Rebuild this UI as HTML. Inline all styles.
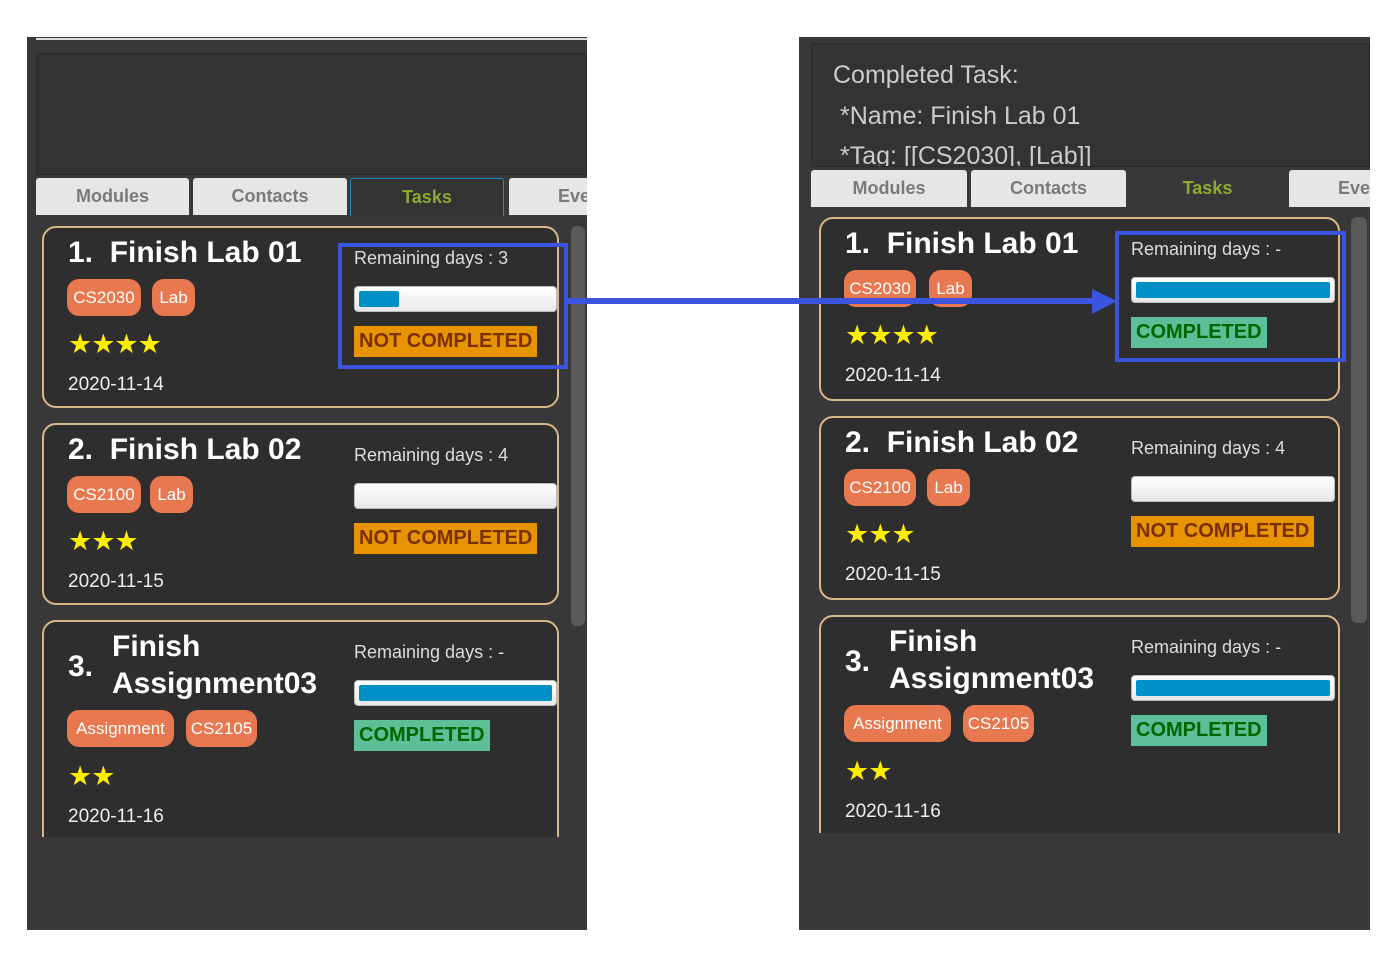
<!DOCTYPE html>
<html><head><meta charset="utf-8"><style>
*{margin:0;padding:0;box-sizing:border-box}
body{width:1393px;height:956px;background:#fff;position:relative;overflow:hidden;font-family:"Liberation Sans",sans-serif}
.a{position:absolute}
.panel{background:#383838;overflow:hidden}
.tab{position:absolute;background:#e6e6e6;color:#7a7a7a;font-weight:bold;font-size:18px;text-align:center;line-height:37px;border-radius:3px 3px 0 0}
.tab.sel{background:#333;color:#8aaa30;border:1px solid #1a8ac0;border-bottom:none}
.clip{position:absolute;overflow:hidden}
.card{position:absolute;width:517px;height:182px;background:#2e2e2e;border:2px solid #d8b888;border-radius:14px;color:#fff}
.t{position:absolute;font-weight:bold;font-size:30px;white-space:nowrap;color:#fff}
.tag{position:absolute;height:37px;background:#e87850;border-radius:12px;color:#fff;font-size:17px;line-height:37px;text-align:center}
.st{position:absolute;color:#ffee00;font-size:27px;letter-spacing:-1px}
.d{position:absolute;font-size:19px;color:#eee}
.rd{position:absolute;left:310px;top:20px;font-size:18px;color:#ddd;white-space:nowrap}
.bar{position:absolute;left:310px;top:58px;width:203px;height:26px;background:linear-gradient(#fff,#e8e8e8);border:1px solid #bbb;border-radius:4px}
.fill{position:absolute;left:4px;top:4px;height:16px;background:#0090c8;border-radius:2px}
.stat{position:absolute;left:310px;top:98px;height:31px;font-weight:bold;font-size:20px;line-height:31px;padding:0 5px;white-space:nowrap}
.nc{background:#e89400;color:#7a3000}
.c{background:#5cbf98;color:#006400}
.hl{position:absolute;border:4px solid #3c55e0}
</style></head><body>

<div class="a panel" style="left:27px;top:37px;width:560px;height:893px">
  <div class="a" style="left:9px;top:1px;width:551px;height:2px;background:#ddd"></div>
  <div class="a" style="left:9px;top:16px;width:551px;height:122px;background:#333;border:1px solid #2a2a2a"></div>
  <div class="tab" style="left:9px;top:141px;width:153px">Modules</div>
  <div class="tab" style="left:166px;top:141px;width:154px">Contacts</div>
  <div class="tab sel" style="left:323px;top:141px;width:154px">Tasks</div>
  <div class="tab" style="left:482px;top:141px;width:120px;text-align:left;padding-left:49px">Eve</div>
  <div class="a" style="left:544px;top:189px;width:14px;height:400px;background:#5a5a5a;border-radius:6px"></div>
</div>
<div class="clip" style="left:27px;top:220px;width:540px;height:617px">
  <div class="card" style="left:15px;top:6px">
    <div class="t" style="left:24px;top:8px">1.&nbsp; Finish Lab 01</div>
    <div class="tag" style="left:23px;top:51px;width:74px">CS2030</div>
    <div class="tag" style="left:108px;top:51px;width:43px">Lab</div>
    <div class="st" style="left:24px;top:101px">★★★★</div>
    <div class="d" style="left:24px;top:146px">2020-11-14</div>
    <div class="rd">Remaining days : 3</div>
    <div class="bar"><div class="fill" style="width:40px"></div></div>
    <div class="stat nc">NOT COMPLETED</div>
  </div>
  <div class="card" style="left:15px;top:203px">
    <div class="t" style="left:24px;top:8px">2.&nbsp; Finish Lab 02</div>
    <div class="tag" style="left:23px;top:51px;width:74px">CS2100</div>
    <div class="tag" style="left:106px;top:51px;width:43px">Lab</div>
    <div class="st" style="left:24px;top:101px">★★★</div>
    <div class="d" style="left:24px;top:146px">2020-11-15</div>
    <div class="rd">Remaining days : 4</div>
    <div class="bar"></div>
    <div class="stat nc">NOT COMPLETED</div>
  </div>
  <div class="card" style="left:15px;top:400px;height:240px">
    <div class="t" style="left:24px;top:28px">3.</div>
    <div class="t" style="left:68px;top:8px">Finish</div>
    <div class="t" style="left:68px;top:45px">Assignment03</div>
    <div class="tag" style="left:23px;top:88px;width:107px">Assignment</div>
    <div class="tag" style="left:142px;top:88px;width:71px">CS2105</div>
    <div class="st" style="left:24px;top:139px">★★</div>
    <div class="d" style="left:24px;top:184px">2020-11-16</div>
    <div class="rd">Remaining days : -</div>
    <div class="bar"><div class="fill" style="width:193px"></div></div>
    <div class="stat c">COMPLETED</div>
  </div>
</div>

<div class="a panel" style="left:799px;top:37px;width:571px;height:893px">
  <div class="a" style="left:12px;top:6px;width:559px;height:124px;background:#333;border:1px solid #2a2a2a;overflow:hidden;color:#ccc;font-size:25px">
    <div class="a" style="left:21px;top:17px;white-space:nowrap">Completed Task:</div>
    <div class="a" style="left:28px;top:58px;white-space:nowrap">*Name: Finish Lab 01</div>
    <div class="a" style="left:28px;top:98px;white-space:nowrap">*Tag: [[CS2030], [Lab]]</div>
  </div>
  <div class="tab" style="left:12px;top:133px;width:156px">Modules</div>
  <div class="tab" style="left:172px;top:133px;width:155px">Contacts</div>
  <div class="tab" style="left:331px;top:133px;width:155px;background:#383838;color:#8aaa30">Tasks</div>
  <div class="tab" style="left:490px;top:133px;width:120px;text-align:left;padding-left:49px">Eve</div>
  <div class="a" style="left:552px;top:180px;width:16px;height:406px;background:#5a5a5a;border-radius:6px"></div>
</div>
<div class="clip" style="left:799px;top:210px;width:550px;height:623px">
  <div class="card" style="left:20px;top:7px;width:521px;height:184px">
    <div class="t" style="left:24px;top:8px">1.&nbsp; Finish Lab 01</div>
    <div class="tag" style="left:23px;top:51px;width:72px">CS2030</div>
    <div class="tag" style="left:108px;top:51px;width:43px">Lab</div>
    <div class="st" style="left:24px;top:101px">★★★★</div>
    <div class="d" style="left:24px;top:146px">2020-11-14</div>
    <div class="rd" style="left:310px">Remaining days : -</div>
    <div class="bar" style="width:204px"><div class="fill" style="width:194px"></div></div>
    <div class="stat c">COMPLETED</div>
  </div>
  <div class="card" style="left:20px;top:206px;width:521px;height:184px">
    <div class="t" style="left:24px;top:8px">2.&nbsp; Finish Lab 02</div>
    <div class="tag" style="left:23px;top:51px;width:72px">CS2100</div>
    <div class="tag" style="left:106px;top:51px;width:43px">Lab</div>
    <div class="st" style="left:24px;top:101px">★★★</div>
    <div class="d" style="left:24px;top:146px">2020-11-15</div>
    <div class="rd">Remaining days : 4</div>
    <div class="bar" style="width:204px"></div>
    <div class="stat nc">NOT COMPLETED</div>
  </div>
  <div class="card" style="left:20px;top:405px;width:521px;height:240px">
    <div class="t" style="left:24px;top:28px">3.</div>
    <div class="t" style="left:68px;top:8px">Finish</div>
    <div class="t" style="left:68px;top:45px">Assignment03</div>
    <div class="tag" style="left:23px;top:88px;width:107px">Assignment</div>
    <div class="tag" style="left:142px;top:88px;width:71px">CS2105</div>
    <div class="st" style="left:24px;top:139px">★★</div>
    <div class="d" style="left:24px;top:184px">2020-11-16</div>
    <div class="rd">Remaining days : -</div>
    <div class="bar" style="width:204px"><div class="fill" style="width:194px"></div></div>
    <div class="stat c">COMPLETED</div>
  </div>
</div>

<div class="hl" style="left:338px;top:243px;width:230px;height:126px"></div>
<div class="hl" style="left:1115px;top:231px;width:231px;height:131px"></div>
<svg class="a" style="left:0;top:0" width="1393" height="956">
  <rect x="568" y="298" width="528" height="6" fill="#3c55e0"/>
  <polygon points="1092,289 1117,301 1092,314" fill="#3c55e0"/>
</svg>
</body></html>
